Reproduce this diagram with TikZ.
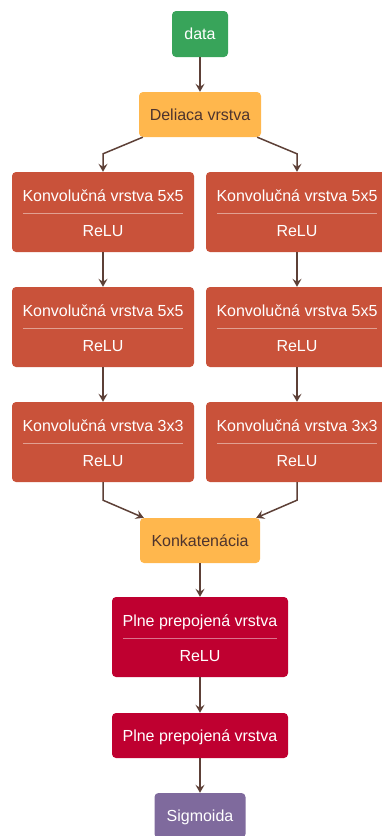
\documentclass[tikz,border=0pt]{standalone}
\usepackage{fontspec}
\setmainfont{Liberation Sans}
\usetikzlibrary{arrows.meta,calc}
\definecolor{cgreen}{HTML}{38A45A}
\definecolor{corange}{HTML}{FFB74D}
\definecolor{cconv}{HTML}{C9523A}
\definecolor{cfc}{HTML}{BF0030}
\definecolor{cpurple}{HTML}{7F6A9D}
\definecolor{carrow}{HTML}{5D4037}
\definecolor{cdark}{HTML}{4E342E}
\newcommand{\dualbox}[6]{%
  \node[#2, minimum width=#5pt] (#1) at (#3, #4+40) {};
  \node[lbl] (#1t) at (#3, #4+29) {#6};
  \node[lbl] (#1b) at (#3, #4+64) {ReLU};
  \draw[sepline] ($(#1.west)+(11,1)$) -- ($(#1.east)+(-11,1)$);
}
\begin{document}
\begin{tikzpicture}[x=1pt,y=-1pt,
  basebox/.style={rectangle, rounded corners=4pt, inner sep=0pt, font=\fontsize{16}{19}\selectfont, text height=11pt, text depth=0pt},
  onebox/.style={basebox, minimum height=45pt},
  convbox/.style={basebox, fill=cconv, minimum height=80pt},
  fcbox/.style={basebox, fill=cfc, minimum height=80pt},
  lbl/.style={anchor=base, inner sep=0pt, text=white, font=\fontsize{16}{19}\selectfont},
  sepline/.style={draw=white, opacity=0.45, line width=1pt},
  arr/.style={draw=carrow, line width=1.5pt, -{Stealth[length=8pt,width=9pt,inset=3pt]}}
]
\useasboundingbox (0,0) rectangle (382,836);
\node[onebox, fill=cgreen, text=white, minimum width=56pt, minimum height=46pt] (data) at (200,34) {data};
\node[onebox, fill=corange, text=cdark, minimum width=122pt] (del) at (200,114.5) {Deliaca vrstva};
\dualbox{c1l}{convbox}{103}{172}{182}{Konvolučná vrstva 5x5}
\dualbox{c1r}{convbox}{297}{172}{182}{Konvolučná vrstva 5x5}
\dualbox{c2l}{convbox}{103}{287}{182}{Konvolučná vrstva 5x5}
\dualbox{c2r}{convbox}{297}{287}{182}{Konvolučná vrstva 5x5}
\dualbox{c3l}{convbox}{103}{402}{182}{Konvolučná vrstva 3x3}
\dualbox{c3r}{convbox}{297}{402}{182}{Konvolučná vrstva 3x3}
\node[onebox, fill=corange, text=cdark, minimum width=120pt] (konk) at (200,540.5) {Konkatenácia};
\dualbox{fc1}{fcbox}{200}{597}{176}{Plne prepojená vrstva}
\node[onebox, fill=cfc, text=white, minimum width=176pt] (fc2) at (200,735.5) {Plne prepojená vrstva};
\node[onebox, fill=cpurple, text=white, minimum width=91pt] (sig) at (200,815.5) {Sigmoida};
\draw[arr] (data) -- (del);
\draw[arr] ([xshift=4pt]del.south west) -- ([yshift=18pt]c1l.north) -- (c1l.north);
\draw[arr] ([xshift=-4pt]del.south east) -- ([yshift=18pt]c1r.north) -- (c1r.north);
\draw[arr] (c1l) -- (c2l);
\draw[arr] (c1r) -- (c2r);
\draw[arr] (c2l) -- (c3l);
\draw[arr] (c2r) -- (c3r);
\draw[arr] (c3l.south) -- ([yshift=-18pt]c3l.south) -- ([xshift=4pt]konk.north west);
\draw[arr] (c3r.south) -- ([yshift=-18pt]c3r.south) -- ([xshift=-4pt]konk.north east);
\draw[arr] (konk) -- (fc1);
\draw[arr] (fc1) -- (fc2);
\draw[arr] (fc2) -- (sig);
\end{tikzpicture}
\end{document}
